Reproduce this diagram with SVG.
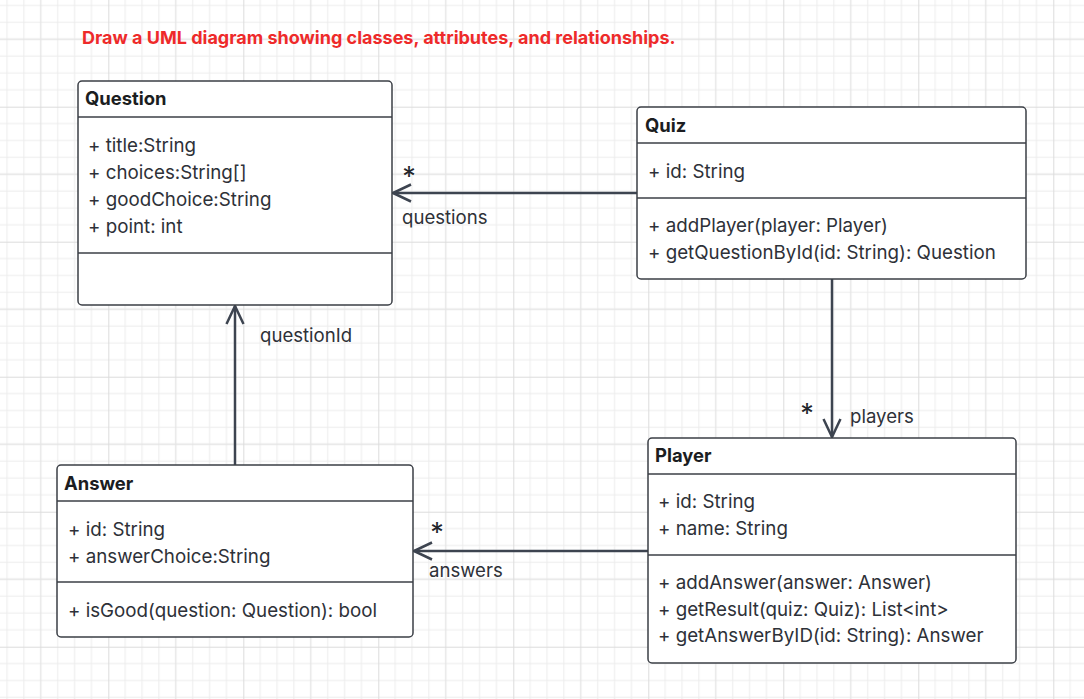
<svg xmlns="http://www.w3.org/2000/svg" width="1084" height="699" viewBox="0 0 1084 699">
<style>
.box{fill:#ffffff;stroke:#3b3f46;stroke-width:1.5}
.div{stroke:#3b3f46;stroke-width:1.5}
.title{font-family:Inter,"Liberation Sans",sans-serif;font-size:18.4px;font-weight:700;fill:#1b1d21}
.mem{font-family:Inter,"Liberation Sans",sans-serif;font-size:18.75px;fill:#2e3138}
.edge{stroke:#3d4450;stroke-width:2.5;fill:none}
.lbl{font-family:Inter,"Liberation Sans",sans-serif;font-size:18.6px;fill:#2e3138}
.mult{font-family:Inter,"Liberation Sans",sans-serif;font-size:27px;fill:#23262b}
.head{font-family:Inter,"Liberation Sans",sans-serif;font-size:18px;font-weight:700;fill:#ee2a2a}
</style>
<defs>
<pattern id="grid" patternUnits="userSpaceOnUse" x="108.3" y="106.7" width="135" height="135">
<path d="M16.875 0V135M33.75 0V135M50.625 0V135M84.375 0V135M101.25 0V135M118.125 0V135M0 16.875H135M0 33.75H135M0 50.625H135M0 84.375H135M0 101.25H135M0 118.125H135" stroke="#ececec" stroke-width="1" fill="none"/>
<path d="M67.5 0V135M0 67.5H135" stroke="#e4e4e4" stroke-width="1.3" fill="none"/>
<path d="M0 0V135M0 0H135" stroke="#dcdcdc" stroke-width="2" fill="none"/>
</pattern>
<marker id="open" viewBox="0 0 22 22" refX="20" refY="11" markerWidth="22" markerHeight="22" markerUnits="userSpaceOnUse" orient="auto">
<path d="M2 2.5L20 11L2 19.5" fill="none" stroke="#3d4450" stroke-width="2.5" stroke-linejoin="miter"/>
</marker>
</defs>
<rect width="1084" height="699" fill="#ffffff"/>
<rect width="1084" height="699" fill="url(#grid)"/>

<text class="head" x="82" y="44">Draw a UML diagram showing classes, attributes, and relationships.</text>

<g id="connectors">
<g id="quiz-question">
<line class="edge" x1="637" y1="193" x2="393" y2="193" marker-end="url(#open)"/>
<text class="mult" x="409" y="186" text-anchor="middle">*</text>
<text class="lbl" x="402" y="224">questions</text>
</g>
<g id="quiz-player">
<line class="edge" x1="832" y1="279" x2="832" y2="437" marker-end="url(#open)"/>
<text class="mult" x="807" y="423" text-anchor="middle">*</text>
<text class="lbl" x="850" y="423">players</text>
</g>
<g id="player-answer">
<line class="edge" x1="648" y1="551" x2="414" y2="551" marker-end="url(#open)"/>
<text class="mult" x="437" y="542" text-anchor="middle">*</text>
<text class="lbl" x="429" y="577">answers</text>
</g>
<g id="answer-question">
<line class="edge" x1="235" y1="465" x2="235" y2="306" marker-end="url(#open)"/>
<text class="lbl" x="260" y="342">questionId</text>
</g>
</g>

<g id="Question">
<rect class="box" x="78" y="81" width="314" height="224" rx="4"/>
<line class="div" x1="78" y1="117" x2="392" y2="117"/>
<line class="div" x1="78" y1="253" x2="392" y2="253"/>
<text class="title" x="85" y="105">Question</text>
<text class="mem" x="88" y="152">+ title:String</text>
<text class="mem" x="88" y="179">+ choices:String[]</text>
<text class="mem" x="88" y="206">+ goodChoice:String</text>
<text class="mem" x="88" y="233">+ point: int</text>
</g>

<g id="Quiz">
<rect class="box" x="637" y="107" width="389" height="172" rx="4"/>
<line class="div" x1="637" y1="143" x2="1026" y2="143"/>
<line class="div" x1="637" y1="198" x2="1026" y2="198"/>
<text class="title" x="645" y="132">Quiz</text>
<text class="mem" x="648" y="178">+ id: String</text>
<text class="mem" x="648" y="232">+ addPlayer(player: Player)</text>
<text class="mem" x="648" y="259">+ getQuestionById(id: String): Question</text>
</g>

<g id="Player">
<rect class="box" x="648" y="438" width="368" height="225" rx="4"/>
<line class="div" x1="648" y1="474" x2="1016" y2="474"/>
<line class="div" x1="648" y1="555" x2="1016" y2="555"/>
<text class="title" x="655" y="462">Player</text>
<text class="mem" x="658" y="508">+ id: String</text>
<text class="mem" x="658" y="535">+ name: String</text>
<text class="mem" x="658" y="589">+ addAnswer(answer: Answer)</text>
<text class="mem" x="658" y="616">+ getResult(quiz: Quiz): List&lt;int&gt;</text>
<text class="mem" x="658" y="642">+ getAnswerByID(id: String): Answer</text>
</g>

<g id="Answer">
<rect class="box" x="57" y="465" width="356" height="172" rx="4"/>
<line class="div" x1="57" y1="501" x2="413" y2="501"/>
<line class="div" x1="57" y1="582" x2="413" y2="582"/>
<text class="title" x="64" y="490">Answer</text>
<text class="mem" x="68" y="536">+ id: String</text>
<text class="mem" x="68" y="563">+ answerChoice:String</text>
<text class="mem" x="68" y="617">+ isGood(question: Question): bool</text>
</g>
</svg>
